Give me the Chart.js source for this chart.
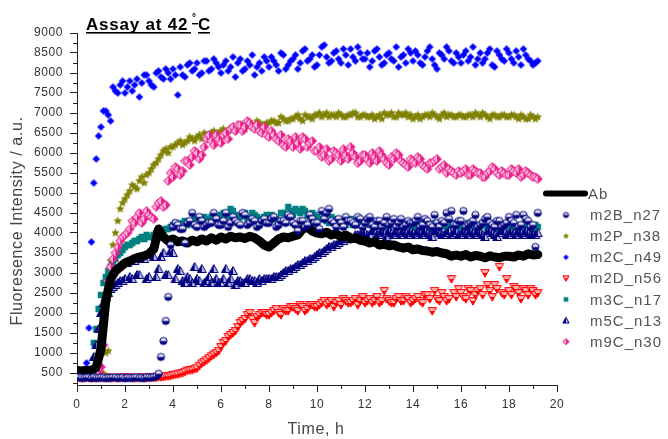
<!DOCTYPE html>
<html>
<head>
<meta charset="utf-8">
<title>Assay at 42 °C</title>
<script src="https://cdn.jsdelivr.net/npm/chart.js@4.4.0/dist/chart.umd.min.js"></script>
<style>
  body { margin: 0; background: #fff; }
  canvas { display: block; }
</style>
</head>
<body>
<canvas id="myChart" width="668" height="439"></canvas>
<script>

// time axis (h): readings on the even grid and the ones in between
var times = [
  0, 0.2, 0.4, 0.6, 0.8, 1, 1.2, 1.4, 1.6, 1.8,
  2, 2.2, 2.4, 2.6, 2.8, 3, 3.2, 3.4, 3.6, 3.8,
  4, 4.2, 4.4, 4.6, 4.8, 5, 5.2, 5.4, 5.6, 5.8,
  6, 6.2, 6.4, 6.6, 6.8, 7, 7.2, 7.4, 7.6, 7.8,
  8, 8.2, 8.4, 8.6, 8.8, 9, 9.2, 9.4, 9.6, 9.8,
  10, 10.2, 10.4, 10.6, 10.8, 11, 11.2, 11.4, 11.6, 11.8,
  12, 12.2, 12.4, 12.6, 12.8, 13, 13.2, 13.4, 13.6, 13.8,
  14, 14.2, 14.4, 14.6, 14.8, 15, 15.2, 15.4, 15.6, 15.8,
  16, 16.2, 16.4, 16.6, 16.8, 17, 17.2, 17.4, 17.6, 17.8,
  18, 18.2, 18.4, 18.6, 18.8, 19, 19.2
];
var timesMid = [
  0.1, 0.3, 0.5, 0.7, 0.9, 1.1, 1.3, 1.5, 1.7, 1.9,
  2.1, 2.3, 2.5, 2.7, 2.9, 3.1, 3.3, 3.5, 3.7, 3.9,
  4.1, 4.3, 4.5, 4.7, 4.9, 5.1, 5.3, 5.5, 5.7, 5.9,
  6.1, 6.3, 6.5, 6.7, 6.9, 7.1, 7.3, 7.5, 7.7, 7.9,
  8.1, 8.3, 8.5, 8.7, 8.9, 9.1, 9.3, 9.5, 9.7, 9.9,
  10.1, 10.3, 10.5, 10.7, 10.9, 11.1, 11.3, 11.5, 11.7, 11.9,
  12.1, 12.3, 12.5, 12.7, 12.9, 13.1, 13.3, 13.5, 13.7, 13.9,
  14.1, 14.3, 14.5, 14.7, 14.9, 15.1, 15.3, 15.5, 15.7, 15.9,
  16.1, 16.3, 16.5, 16.7, 16.9, 17.1, 17.3, 17.5, 17.7, 17.9,
  18.1, 18.3, 18.5, 18.7, 18.9, 19.1
];

var labels = ['Ab', 'm2B_n27', 'm2P_n38', 'm2C_n49', 'm2D_n56', 'm3C_n17', 'm5C_n13', 'm9C_n30'];

var ab = [
  560, 550, 570, 560, 640, 1100, 2300, 2850, 3050, 3150,
  3250, 3300, 3360, 3400, 3430, 3480, 3600, 4100, 3900, 3800,
  3850, 3780, 3800, 3750, 3820, 3780, 3850, 3800, 3880, 3820,
  3900, 3850, 3920, 3880, 3900, 3860, 3920, 3880, 3800, 3700,
  3650, 3750, 3850, 3900, 3880, 3920, 3950, 4100, 4150, 4050,
  4000, 3980, 4020, 3950, 3980, 3900, 3950, 3850, 3880, 3820,
  3800, 3750, 3780, 3700, 3720, 3680, 3700, 3650, 3620, 3650,
  3580, 3600, 3560, 3550, 3520, 3540, 3500, 3480, 3420, 3450,
  3420, 3460, 3400, 3440, 3420, 3380, 3430, 3400, 3380, 3420,
  3420, 3400, 3450, 3420, 3480, 3450, 3460
];

var m2B = [
  400, 380, 390, 370, 380, 390, 370, 380, 390, 380,
  370, 380, 390, 380, 370, 390, 400, 480, 1300, 2400,
  4150, 4200, 4100, 4250, 4500, 4150, 4300, 4200, 4250, 4350,
  4200, 4500, 4250, 4300, 4200, 4450, 4250, 4300, 4200, 4350,
  4250, 4400, 4200, 4300, 4450, 4250, 4050, 4300, 4200, 4350,
  4250, 4550, 4500, 4300, 4150, 4250, 4400, 4300, 4200, 4350,
  4250, 4400, 4150, 4300, 4250, 4200, 4350, 4250, 4150, 4300,
  4250, 4400, 4200, 4300, 4150, 4250, 4300, 4500, 4550, 4200,
  4300, 4150, 4250, 4450, 4200, 4350, 4250, 4150, 4300, 4200,
  4400, 4250, 4150, 4450, 4300, 4200, 4500
];
var m2BMid = [
  390, 375, 385, 395, 375, 385, 380, 390, 375, 385,
  385, 375, 390, 380, 395, 385, 420, 900, 1800, 3700,
  4250, 4100, 3750, 4300, 4200, 4400, 4150, 4250, 4500, 4200,
  4300, 4150, 4400, 4250, 4500, 4200, 4350, 4150, 4300, 4250,
  4350, 4150, 4300, 4250, 4400, 4200, 4300, 4150, 4450, 4250,
  4100, 4350, 4600, 4250, 4350, 4150, 4300, 4250, 4400, 4150,
  4350, 4200, 4300, 4150, 4400, 4250, 4150, 4350, 4200, 4250,
  4300, 4150, 4350, 4200, 4450, 4150, 4250, 4350, 4200, 4300,
  4550, 4200, 4300, 4150, 4250, 4400, 4200, 4300, 4150, 4250,
  4300, 4450, 4200, 4350, 4150, 3650
];

var m2P = [
  420, 410, 430, 420, 440, 520, 1000, 3300, 4000, 4600,
  4850, 5050, 5150, 5300, 5250, 5500, 5700, 5850, 6050, 6000,
  6150, 6250, 6200, 6300, 6350, 6400, 6350, 6450, 6500, 6450,
  6550, 6500, 6600, 6550, 6650, 6600, 6700, 6650, 6750, 6700,
  6750, 6800, 6750, 6850, 6800, 6850, 6950, 6800, 6900, 6850,
  6950, 6900, 7000, 6950, 6900, 6950, 6900, 6950, 7000, 6900,
  6950, 6900, 6850, 6950, 7000, 6950, 6900, 7000, 6950, 6900,
  6850, 6950, 6900, 6950, 7000, 6900, 6950, 6900, 6950, 6900,
  6950, 6900, 6950, 7000, 6900, 6950, 6850, 6950, 6900, 6950,
  6900, 6950, 6850, 6900, 6850, 6900, 6900
];
var m2PMid = [
  415, 425, 420, 430, 450, 480, 1050, 3700, 4300, 4750,
  4950, 5200, 5100, 5400, 5450, 5600, 5750, 5950, 6100, 6150,
  6200, 6300, 6250, 6400, 6300, 6450, 6500, 6400, 6550, 6500,
  6600, 6550, 6650, 6600, 6700, 6750, 6650, 6800, 6700, 6750,
  6800, 6750, 6900, 6800, 6850, 6900, 6850, 6950, 6900, 6950,
  7000, 6950, 6900, 6950, 7000, 6900, 6950, 7000, 6900, 6950,
  6900, 6950, 6900, 6850, 6950, 7000, 6900, 6950, 7000, 6950,
  6900, 6850, 6950, 6900, 6950, 6850, 7000, 6950, 6900, 6950,
  6900, 6950, 6900, 6950, 7000, 6900, 6950, 6900, 6950, 6900,
  6950, 6900, 6950, 6850, 6950, 6850
];

var m2C = [
  520, 560, 750, 3775, 5850, 6650, 7050, 6800, 7550, 7700,
  7500, 7800, 7700, 7400, 7950, 7800, 7650, 8050, 7850, 8000,
  8100, 7450, 7950, 8200, 8050, 8250, 8000, 8300, 8100, 8250,
  8000, 8300, 8150, 7900, 8350, 8100, 8200, 7950, 8250, 8400,
  8150, 8300, 8050, 8450, 8200, 8350, 8100, 8550, 8300, 8450,
  8200, 8650, 8400, 8300, 8550, 8250, 8450, 8600, 8300, 8500,
  8350, 8150, 8550, 8400, 8250, 8500, 8300, 8150, 8450, 8600,
  8300, 8450, 8200, 8550, 8350, 8100, 8450, 8650, 8300, 8500,
  8250, 8550, 8400, 8200, 8500, 8350, 8600, 8150, 8450, 8300,
  8500, 8250, 8400, 8600, 8350, 8200, 8300
];
var m2CMid = [
  530, 580, 1625, 5250, 6425, 7050, 6950, 7650, 7500, 7800,
  7650, 7550, 7850, 7750, 7950, 7700, 8000, 7900, 8100, 7850,
  7950, 8150, 7900, 8250, 8100, 7950, 8300, 8050, 8350, 8150,
  8200, 8050, 8400, 8250, 8050, 8300, 8450, 8150, 8050, 8300,
  8400, 8200, 8500, 8100, 8300, 8450, 8250, 8600, 8350, 8150,
  8450, 8700, 8250, 8500, 8350, 8600, 8200, 8400, 8650, 8350,
  8500, 8300, 8600, 8200, 8450, 8350, 8650, 8400, 8250, 8500,
  8550, 8250, 8400, 8650, 8200, 8500, 8350, 8550, 8250, 8400,
  8450, 8300, 8650, 8350, 8250, 8500, 8200, 8550, 8350, 8600,
  8350, 8550, 8200, 8450, 8300, 8250
];

var m2D = [
  380, 370, 390, 380, 370, 380, 390, 370, 380, 390,
  380, 390, 370, 380, 390, 380, 390, 400, 400, 420,
  450, 470, 500, 560, 580, 620, 740, 820, 920, 1000,
  1150, 1300, 1450, 1550, 1750, 1850, 2000, 1750, 1950, 2000,
  1950, 2050, 2000, 2100, 2050, 2150, 2050, 2150, 2100, 2200,
  2150, 2250, 2200, 2300, 2250, 2200, 2300, 2250, 2350, 2300,
  2250, 2350, 2300, 2250, 2550, 2300, 2250, 2400, 2300, 2350,
  2300, 2400, 2250, 2450, 2050, 2350, 2500, 2300, 2850, 2400,
  2500, 2350, 2550, 2450, 2600, 3000, 2550, 2700, 3150, 2450,
  2550, 2650, 2500, 2600, 2450, 2550, 2500
];
var m2DMid = [
  375, 385, 380, 375, 390, 375, 385, 380, 375, 385,
  390, 375, 385, 390, 380, 395, 385, 400, 420, 430,
  460, 490, 530, 570, 600, 680, 780, 870, 960, 1050,
  1250, 1400, 1500, 1650, 1800, 1950, 1850, 1900, 2000, 1950,
  2000, 2100, 1950, 2050, 2150, 2100, 2200, 2050, 2200, 2150,
  2200, 2300, 2250, 2150, 2300, 2350, 2250, 2300, 2200, 2400,
  2300, 2250, 2400, 2300, 2350, 2250, 2350, 2300, 2400, 2250,
  2350, 2300, 2450, 2350, 2550, 2300, 2400, 2350, 2500, 2600,
  2400, 2600, 2300, 2550, 2450, 2700, 2400, 2600, 2500, 2850,
  2450, 2600, 2350, 2550, 2600, 2450
];

var m3C = [
  450, 440, 460, 500, 1600, 2450, 2900, 3150, 3350, 3500,
  3650, 3700, 3800, 3850, 3850, 3900, 3950, 4000, 4050, 4100,
  4200, 4150, 4250, 4200, 4300, 4250, 4350, 4300, 4400, 4350,
  4450, 4400, 4600, 4450, 4400, 4500, 4350, 4450, 4300, 4400,
  4350, 4400, 4300, 4500, 4650, 4450, 4550, 4600, 4450, 4500,
  4400, 4350, 4300, 4400, 4250, 4300, 4200, 4350, 4250, 4200,
  4300, 4200, 4250, 4150, 4300, 4200, 4250, 4150, 4200, 4250,
  4150, 4200, 4250, 4150, 4200, 4100, 4250, 4150, 4200, 4100,
  4200, 4150, 4100, 4200, 4150, 4250, 4100, 4150, 4200, 4100,
  4150, 4200, 4100, 4150, 4200, 4100, 4150
];
var m3CMid = [
  445, 455, 470, 1250, 2100, 2750, 3050, 3250, 3450, 3575,
  3700, 3750, 3800, 3900, 3950, 3900, 4000, 4050, 4100, 4150,
  4250, 4200, 4300, 4250, 4350, 4300, 4400, 4350, 4450, 4400,
  4500, 4450, 4550, 4400, 4450, 4350, 4500, 4400, 4350, 4450,
  4450, 4350, 4500, 4400, 4550, 4600, 4500, 4550, 4400, 4450,
  4350, 4400, 4250, 4350, 4300, 4250, 4300, 4200, 4300, 4250,
  4250, 4300, 4200, 4250, 4150, 4250, 4200, 4300, 4150, 4200,
  4250, 4150, 4200, 4100, 4250, 4150, 4200, 4100, 4250, 4150,
  4150, 4250, 4150, 4100, 4200, 4150, 4250, 4100, 4150, 4200,
  4100, 4150, 4200, 4100, 4150, 4200
];

var m5C = [
  450, 460, 470, 520, 1200, 2000, 2400, 2600, 2700, 2800,
  2850, 2900, 3300, 2950, 3350, 2900, 3400, 3100, 3500, 2950,
  3500, 3100, 2800, 2900, 2750, 2850, 3100, 2800, 2750, 2850,
  2750, 3100, 2850, 2700, 2800, 2750, 2850, 2800, 2850, 2850,
  2850, 2900, 2900, 3000, 3050, 3100, 3200, 3250, 3300, 3350,
  3450, 3500, 3600, 3650, 3700, 3800, 3850, 3900, 3950, 3950,
  4000, 3950, 4050, 3950, 4000, 4050, 3950, 4000, 4050, 3950,
  4000, 4050, 3950, 4000, 3900, 4050, 3950, 4000, 3950, 4050,
  3950, 4000, 4050, 3950, 4000, 3900, 4050, 3950, 4000, 4050,
  3950, 4000, 4050, 3950, 4000, 3950, 4000
];
var m5CMid = [
  455, 465, 480, 900, 1600, 2250, 2500, 2650, 2750, 2800,
  3250, 2850, 2950, 3350, 2850, 3450, 2900, 3400, 2950, 3550,
  2850, 3050, 2750, 2850, 3150, 2800, 2750, 2900, 3100, 2750,
  2850, 2750, 3050, 2800, 2750, 2850, 2800, 2750, 2800, 2850,
  2850, 2900, 2950, 3050, 3100, 3150, 3200, 3300, 3350, 3400,
  3500, 3550, 3650, 3700, 3750, 3800, 3900, 3850, 3950, 4000,
  3950, 4050, 3950, 4050, 3900, 4000, 4050, 3950, 4000, 4050,
  3950, 4000, 4050, 3950, 4050, 4000, 3950, 4050, 4000, 3950,
  4050, 3950, 4000, 4050, 3950, 4050, 4000, 3900, 4050, 3950,
  4050, 3950, 4000, 4050, 3950, 3950
];

var m9C = [
  430, 420, 440, 450, 480, 650, 2300, 3150, 3500, 3800,
  3950, 4100, 4250, 4500, 4350, 4450, 4350, 4750, 4650, 5300,
  5400, 5600, 5550, 5800, 5900, 6000, 5950, 6350, 6300, 6450,
  6250, 6500, 6600, 6550, 6700, 6650, 6750, 6600, 6550, 6650,
  6400, 6450, 6300, 6200, 6350, 6150, 6250, 6400, 6150, 6300,
  6050, 5900, 6100, 5850, 6000, 5800, 5950, 6150, 5900, 5800,
  5950, 5750, 5900, 6050, 5850, 5700, 5850, 5950, 5750, 5650,
  5800, 5900, 5700, 5600, 5750, 5850, 5650, 5500, 5550, 5450,
  5500, 5600, 5450, 5550, 5500, 5400, 5550, 5600, 5450, 5500,
  5450, 5550, 5600, 5450, 5500, 5400, 5350
];
var m9CMid = [
  425, 435, 445, 460, 520, 1200, 2800, 3350, 3650, 3900,
  4000, 4300, 4400, 4250, 4550, 4400, 4650, 4800, 4700, 5500,
  5650, 5450, 5800, 5700, 6050, 5850, 6150, 6450, 6200, 6350,
  6450, 6350, 6650, 6700, 6550, 6800, 6650, 6700, 6500, 6450,
  6550, 6350, 6450, 6150, 6300, 6400, 6100, 6350, 6250, 6050,
  6150, 5950, 5800, 6050, 5950, 6100, 5850, 6000, 5750, 5950,
  5850, 6000, 5800, 5950, 5750, 5900, 6000, 5800, 5700, 5850,
  5750, 5850, 5650, 5750, 5800, 5600, 5700, 5600, 5500, 5550,
  5550, 5450, 5600, 5500, 5400, 5500, 5650, 5500, 5550, 5450,
  5600, 5500, 5400, 5550, 5450, 5400
];

var xTicks = [0, 2, 4, 6, 8, 10, 12, 14, 16, 18, 20];
var yTicks = [500, 1000, 1500, 2000, 2500, 3000, 3500, 4000, 4500, 5000,
              5500, 6000, 6500, 7000, 7500, 8000, 8500, 9000];

var FONT = '"Liberation Sans", Arial, sans-serif';


// small canvas markers, half filled like the Origin symbols
function makeMarker(kind, r, dark, light, half) {
  var n = Math.ceil(r * 2 + 3);
  var cv = document.createElement('canvas');
  cv.width = n; cv.height = n;
  var g = cv.getContext('2d');
  g.translate(n / 2, n / 2);
  g.beginPath();
  if (kind == 'circle') {
    g.arc(0, 0, r, 0, Math.PI * 2);
  } else if (kind == 'diamond') {
    g.moveTo(0, -r); g.lineTo(r, 0); g.lineTo(0, r); g.lineTo(-r, 0);
  } else if (kind == 'square') {
    g.rect(-r, -r, r * 2, r * 2);
  } else if (kind == 'up') {
    g.moveTo(0, -r); g.lineTo(r, r * 0.8); g.lineTo(-r, r * 0.8);
  } else if (kind == 'down') {
    g.moveTo(0, r); g.lineTo(r, -r * 0.8); g.lineTo(-r, -r * 0.8);
  } else if (kind == 'star') {
    for (var k = 0; k < 10; k++) {
      var a = -Math.PI / 2 + k * Math.PI / 5;
      var rr = k % 2 ? r * 0.45 : r;
      g.lineTo(Math.cos(a) * rr, Math.sin(a) * rr);
    }
  }
  g.closePath();
  g.save();
  g.clip();
  g.fillStyle = dark;
  g.fillRect(-n, -n, n * 2, n * 2);
  if (half) {
    g.fillStyle = light;
    if (half == 'top') g.fillRect(-n, -n, n * 2, n);
    if (half == 'left') g.fillRect(-n, -n, n, n * 2);
    if (half == 'right') g.fillRect(0, -n, n, n * 2);
  }
  g.restore();
  if (half) {
    g.strokeStyle = dark;
    g.lineWidth = 1;
    g.stroke();
  }
  return cv;
}

var styles = {
  m2B: ['circle', 3.6, '#000080', '#e8e8f4', 'top'],
  m2P: ['star', 4.6, '#808000', null, null],
  m2C: ['diamond', 3.8, '#0000ff', null, null],
  m2D: ['down', 4.2, '#ff0000', '#ffb4b4', 'top'],
  m3C: ['square', 3.2, '#008080', null, null],
  m5C: ['up', 4.4, '#000080', '#b8b8dc', 'right'],
  m9C: ['diamond', 4.4, '#e91e8c', '#f7b2d4', 'left']
};
var names = ['m2B', 'm2P', 'm2C', 'm2D', 'm3C', 'm5C', 'm9C'];

function pts(vals, mids) {
  var out = [];
  vals.forEach(function(v, i) {
    out.push({ x: times[i], y: v });
    if (mids && i < mids.length) out.push({ x: timesMid[i], y: mids[i] });
  });
  return out;
}

function markerSet(name, vals, mids, order) {
  var s = styles[name];
  return {
    label: labels[names.indexOf(name) + 1],
    data: pts(vals, mids),
    showLine: false,
    pointStyle: makeMarker(s[0], s[1], s[2], s[3], s[4]),
    pointRadius: 3.5,
    order: order
  };
}


var decorations = {
  id: 'decorations',
  beforeDraw: function(chart) {
    chart.ctx.letterSpacing = '0.6px';
  },
  afterDraw: function(chart) {
    var ctx = chart.ctx;
    var xs = chart.scales.x, ys = chart.scales.y;
    var area = chart.chartArea;
    ctx.save();

    // minor ticks
    ctx.strokeStyle = '#222';
    ctx.lineWidth = 1;
    ctx.beginPath();
    for (var i = 0; i < xTicks.length - 1; i++) {
      var px = Math.round(xs.getPixelForValue((xTicks[i] + xTicks[i + 1]) / 2)) + 0.5;
      ctx.moveTo(px, area.bottom); ctx.lineTo(px, area.bottom + 4);
    }
    var minorY = [250];
    for (var j = 0; j < yTicks.length - 1; j++) minorY.push((yTicks[j] + yTicks[j + 1]) / 2);
    minorY.forEach(function(v) {
      var py = Math.round(ys.getPixelForValue(v)) + 0.5;
      ctx.moveTo(area.left - 4, py); ctx.lineTo(area.left, py);
    });
    ctx.stroke();

    // title, bold and underlined
    ctx.fillStyle = '#000';
    ctx.textBaseline = 'alphabetic';
    ctx.textAlign = 'left';
    ctx.letterSpacing = '0.8px';
    ctx.font = 'bold 17px ' + FONT;
    ctx.fillText('Assay at 42', 86, 30);
    ctx.font = 'bold 10px ' + FONT;
    ctx.letterSpacing = '0px';
    ctx.fillText('°', 192, 21);
    ctx.font = 'bold 17px ' + FONT;
    ctx.fillText('C', 198, 30);
    ctx.fillRect(86, 32, 105, 1.6);
    ctx.fillRect(192, 23, 6, 1.4);
    ctx.fillRect(198, 32, 12, 1.6);

    // axis titles
    ctx.fillStyle = '#444';
    ctx.letterSpacing = '0.6px';
    ctx.font = '16px ' + FONT;
    ctx.textAlign = 'center';
    ctx.fillText('Time, h', 316, 434);
    ctx.save();
    ctx.translate(21.5, 221);
    ctx.rotate(-Math.PI / 2);
    ctx.fillText('Fluoresence Intensity / a.u.', 0, 0);
    ctx.restore();

    // legend on the right
    ctx.textAlign = 'left';
    ctx.textBaseline = 'middle';
    ctx.font = '15px ' + FONT;
    ctx.letterSpacing = '1px';
    ctx.fillStyle = '#555';
    ctx.strokeStyle = '#000';
    ctx.lineWidth = 6;
    ctx.lineCap = 'round';
    ctx.beginPath(); ctx.moveTo(546, 193.5); ctx.lineTo(585, 193.5); ctx.stroke();
    ctx.fillText(labels[0], 588, 194.5);
    names.forEach(function(nm, k) {
      var y = 215 + k * 21.1;
      var s = styles[nm];
      var mk = makeMarker(s[0], s[1] * 0.72, s[2], s[3], s[4]);
      ctx.drawImage(mk, 566 - mk.width / 2, y - mk.height / 2);
      ctx.fillText(labels[k + 1], 590, y + 1);
    });

    ctx.restore();
  }
};


window.addEventListener('load', function() {

  Chart.defaults.font.family = FONT;

  var axisGrid = {
    display: true,
    drawOnChartArea: false,
    drawTicks: true,
    tickLength: 7,
    color: '#222',
    lineWidth: 1
  };

  var ctx = document.getElementById('myChart').getContext('2d');
  var chart = new Chart(ctx, {
    type: 'scatter',
    data: {
      datasets: [
        {
          label: labels[0],
          data: pts(ab),
          showLine: true,
          borderColor: '#000',
          borderWidth: 9,
          borderCapStyle: 'round',
          borderJoinStyle: 'round',
          pointRadius: 0,
          tension: 0,
          order: 1
        },
        markerSet('m2B', m2B, m2BMid, 0),
        markerSet('m2P', m2P, m2PMid, 5),
        markerSet('m2C', m2C, m2CMid, 6),
        markerSet('m2D', m2D, m2DMid, 7),
        markerSet('m3C', m3C, m3CMid, 4),
        markerSet('m5C', m5C, m5CMid, 3),
        markerSet('m9C', m9C, m9CMid, 2)
      ]
    },
    options: {
      responsive: false,
      animation: false,
      devicePixelRatio: 1,
      layout: { padding: { top: 33, right: 111, left: 0, bottom: 0 } },
      plugins: {
        legend: { display: false },
        tooltip: { enabled: false }
      },
      scales: {
        x: {
          type: 'linear',
          min: 0,
          max: 20,
          grid: axisGrid,
          border: { display: true, color: '#222', width: 1 },
          ticks: { color: '#333', font: { size: 12 }, padding: 5, maxRotation: 0,
                   callback: function(v) { return v; } },
          afterBuildTicks: function(scale) {
            scale.ticks = xTicks.map(function(v) { return { value: v }; });
          },
          afterFit: function(scale) { scale.height = 54; }
        },
        y: {
          type: 'linear',
          min: 200,
          max: 9000,
          grid: axisGrid,
          border: { display: true, color: '#222', width: 1 },
          ticks: { color: '#333', font: { size: 12 }, padding: 7,
                   callback: function(v) { return v; } },
          afterBuildTicks: function(scale) {
            scale.ticks = yTicks.map(function(v) { return { value: v }; });
          },
          afterFit: function(scale) { scale.width = 77; }
        }
      }
    },
    plugins: [decorations]
  });

});
</script>
</body>
</html>
